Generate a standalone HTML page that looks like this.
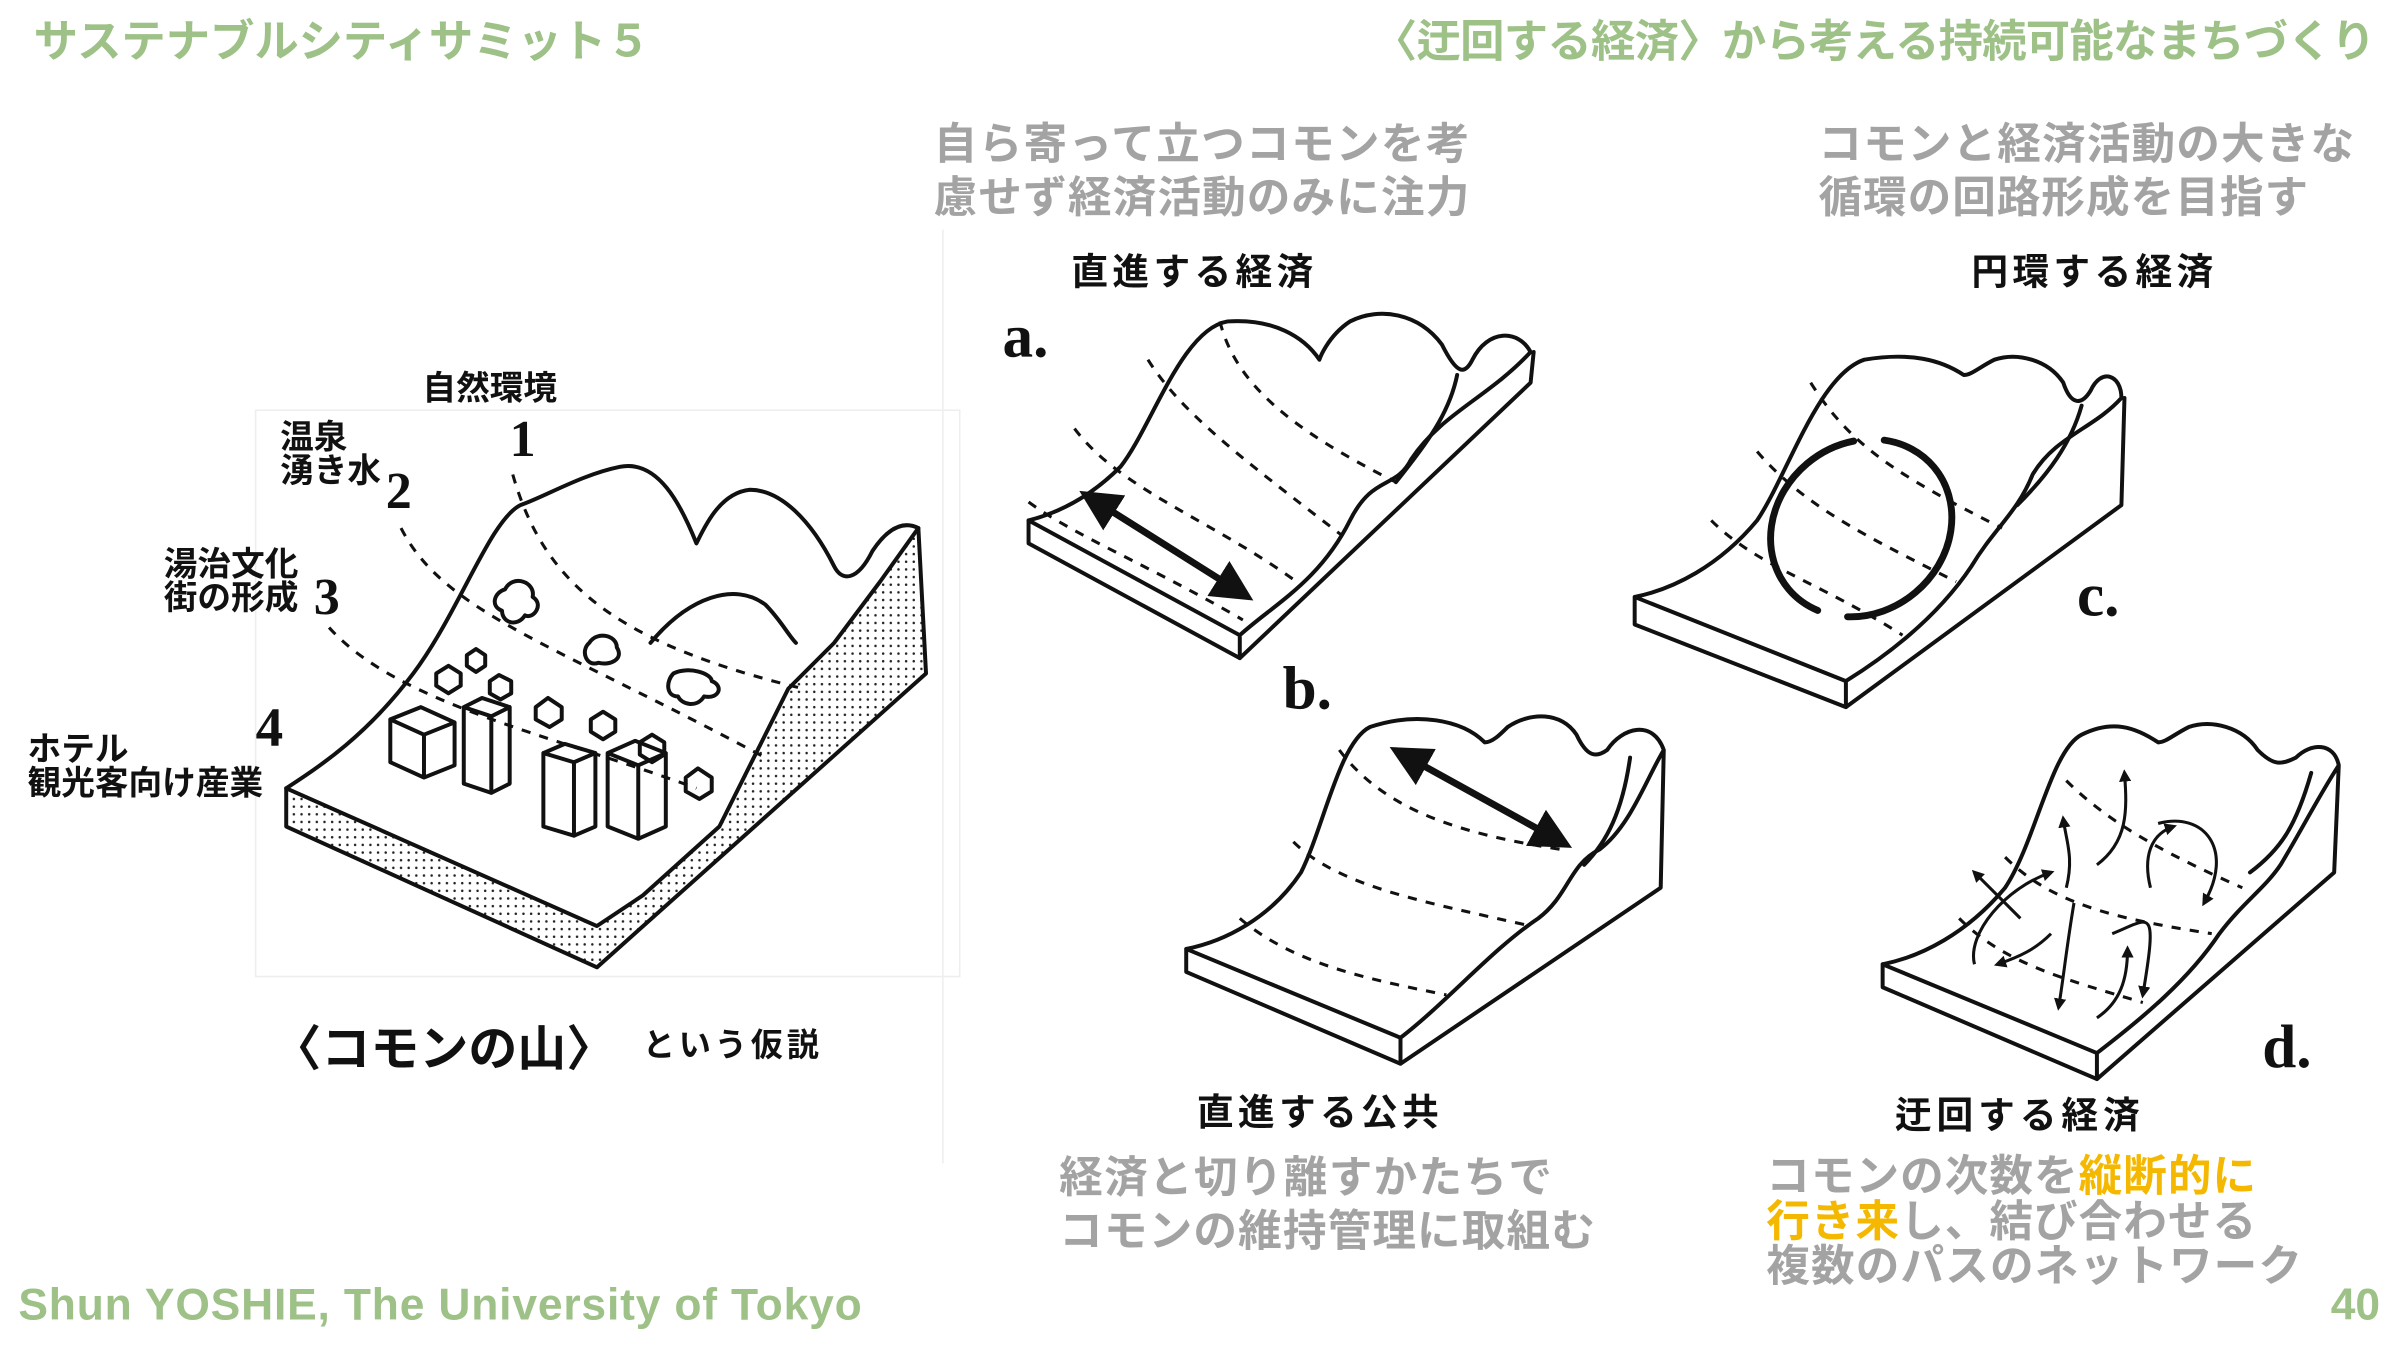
<!DOCTYPE html>
<html><head><meta charset="utf-8"><style>
html,body{margin:0;padding:0;background:#fff;width:2400px;height:1350px;overflow:hidden}
#w{width:1568px;height:882px;transform:scale(1.5306);transform-origin:0 0;position:relative}
svg{position:absolute;left:0;top:0}
text{font-family:"Liberation Sans","Noto Sans CJK JP",sans-serif}
.g{fill:#9dc187;font-weight:bold;font-size:29px}
.gr{fill:#a3a3a3;font-weight:bold;font-size:28.5px}
.k{fill:#111;font-weight:bold;font-size:24px}
.s{fill:none;stroke:#111;stroke-width:2.6;stroke-linecap:round;stroke-linejoin:round}
.d{fill:none;stroke:#111;stroke-width:2;stroke-dasharray:6 6}
.ar{fill:none;stroke:#111;stroke-width:4.5;stroke-linecap:round}
.lt{font-family:"Liberation Serif",serif;font-weight:bold;font-size:40px;fill:#111}
</style></head><body><div id="w">
<svg width="1568" height="882" viewBox="0 0 1568 882">
<defs>
<pattern id="dots" width="5" height="5" patternUnits="userSpaceOnUse"><circle cx="2" cy="2" r="0.8" fill="#222"/></pattern>
<marker id="ah" viewBox="0 0 10 10" refX="7" refY="5" markerWidth="4" markerHeight="4" orient="auto-start-reverse"><path d="M0,0L10,5L0,10z" fill="#111"/></marker>
<marker id="ah2" viewBox="0 0 10 10" refX="7" refY="5" markerWidth="6" markerHeight="6" orient="auto-start-reverse"><path d="M0,0L10,5L0,10z" fill="#111"/></marker>
</defs>
<rect x="167" y="268" width="460" height="370" fill="none" stroke="#eee"/>
<line x1="616" y1="150" x2="616" y2="760" stroke="#eee"/>
<text x="22" y="37" class="g" textLength="403">サステナブルシティサミット５</text>
<text x="897" y="37" class="g" textLength="655">〈迂回する経済〉から考える持続可能なまちづくり</text>
<text x="12" y="862" class="g" textLength="551">Shun YOSHIE, The University of Tokyo</text>
<text x="1555" y="862" class="g" text-anchor="end">40</text>
<text x="610" y="104" class="gr" textLength="350">自ら寄って立つコモンを考</text>
<text x="610" y="139" class="gr" textLength="350">慮せず経済活動のみに注力</text>
<text x="1188" y="104" class="gr" textLength="350">コモンと経済活動の大きな</text>
<text x="1188" y="139" class="gr" textLength="320">循環の回路形成を目指す</text>
<text x="692" y="779" class="gr" textLength="322">経済と切り離すかたちで</text>
<text x="692" y="814" class="gr" textLength="350">コモンの維持管理に取組む</text>
<text x="1154" y="778" class="gr" textLength="320">コモンの次数を<tspan fill="#f5b800">縦断的に</tspan></text>
<text x="1154" y="808" class="gr" textLength="320"><tspan fill="#f5b800">行き来</tspan>し、結び合わせる</text>
<text x="1154" y="837" class="gr" textLength="350">複数のパスのネットワーク</text>
<text x="700" y="186" class="k" textLength="158">直進する経済</text>
<text x="1288" y="186" class="k" textLength="158">円環する経済</text>
<text x="782" y="735" class="k" textLength="158">直進する公共</text>
<text x="1238" y="737" class="k" textLength="160">迂回する経済</text>
<text x="276" y="261" class="k" style="font-size:22px">自然環境</text>
<text x="183" y="293" class="k" style="font-size:22px">温泉</text>
<text x="183" y="315" class="k" style="font-size:22px">湧き水</text>
<text x="107" y="376" class="k" style="font-size:22px">湯治文化</text>
<text x="107" y="398" class="k" style="font-size:22px">街の形成</text>
<text x="18" y="497" class="k" style="font-size:22px">ホテル</text>
<text x="18" y="519" class="k" style="font-size:22px">観光客向け産業</text>
<text x="333" y="298" class="lt" style="font-size:34px">1</text>
<text x="252" y="332" class="lt" style="font-size:34px">2</text>
<text x="205" y="401" class="lt" style="font-size:34px">3</text>
<text x="167" y="487" class="lt" style="font-size:36px">4</text>
<text x="178" y="696" class="k" style="font-size:32px">〈コモンの山〉</text>
<text x="420" y="690" class="k" style="font-size:21px" textLength="115">という仮説</text>
<text x="655" y="233" class="lt">a.</text>
<text x="838" y="463" class="lt">b.</text>
<text x="1357" y="402" class="lt">c.</text>
<text x="1478" y="697" class="lt">d.</text>

<path d="M390,605 L420,585 L470,540 L515,450 L545,420 L575,380 L600,345 L605,440 L390,632 Z" fill="url(#dots)"/>
<path d="M187,540 L187,515 L390,605 L390,632 L187,540 Z" fill="url(#dots)"/>
<path class="s" d="M187,515 L187,540 L390,632 L605,440 L600,345"/>
<path class="s" d="M187,515 L390,605 L420,585 L470,540 L515,450 L545,420 L575,380 L600,345 C590,340 580,345 570,360 C560,380 550,380 545,370 C530,340 510,320 490,320 C470,322 460,345 455,355 C445,330 430,300 405,305 C380,310 355,325 340,330 C320,340 300,400 270,440 C240,480 210,500 187,515"/>
<path class="s" d="M425,420 C450,390 480,380 500,395 C510,405 515,415 520,420"/>
<path class="d" d="M335,310 C355,380 400,420 525,450"/>
<path class="d" d="M262,345 C290,400 360,420 500,495"/>
<path class="d" d="M215,410 C260,460 360,480 455,515"/>
<path class="s" stroke-width="1.5" d="M330,385 c5,-10 20,-5 18,5 c8,5 0,15 -5,12 c-5,8 -15,5 -15,-3 c-8,-3 -5,-12 2,-14z M385,420 c5,-8 18,-5 18,3 c5,8 -5,12 -12,10 c-8,3 -12,-8 -6,-13z M440,440 c10,-5 25,0 25,5 c8,3 5,12 -5,10 c-5,8 -15,5 -17,0 c-8,0 -8,-10 -3,-15z"/>
<g class="s" stroke-width="1.8">
<path d="M255,470 l20,-8 l22,10 l0,28 l-20,8 l-22,-10z M255,470 l22,10 l20,-8 M277,480 l0,28"/>
<path d="M303,462 l12,-6 l18,6 l0,50 l-12,6 l-18,-6z M303,462 l18,6 l12,-6 M321,468 l0,50"/>
<path d="M355,492 l14,-6 l20,6 l0,48 l-14,6 l-20,-6z M355,492 l20,6 l14,-6 M375,498 l0,48"/>
<path d="M397,492 l18,-8 l20,8 l0,48 l-18,8 l-20,-8z M397,492 l20,8 l18,-8 M417,500 l0,48"/>
<path d="M285,440 l8,-5 l8,5 l0,8 l-8,5 l-8,-5z M305,428 l6,-4 l6,4 l0,7 l-6,4 l-6,-4z M320,445 l6,-4 l8,4 l0,8 l-7,4 l-7,-4z M350,462 l8,-6 l9,6 l0,8 l-8,5 l-9,-5z M386,470 l8,-5 l8,5 l0,8 l-8,5 l-8,-5z M418,485 l8,-5 l8,5 l0,8 l-8,5 l-8,-5z M448,508 l8,-6 l9,6 l0,9 l-8,5 l-9,-5z"/>
</g>

<g transform="translate(672,210)">
<path class="s" d="M0,130 L0,145 L138,220 L328,40 L330,20 M0,130 L138,205 L138,220 M138,205 C160,185 190,170 210,130 C225,100 240,110 250,90 C270,60 300,50 328,20 C320,5 300,5 290,25 C285,35 280,35 270,15 C255,-5 230,-10 210,0 C195,10 190,25 190,25 C180,10 160,-2 130,0 C100,5 80,70 60,95 C40,115 20,125 0,130"/>
<path class="s" d="M280,35 C275,60 260,80 240,105"/>
<path class="d" d="M125,0 C135,40 170,70 240,105"/>
<path class="d" d="M78,25 C100,60 140,90 205,140"/>
<path class="d" d="M30,70 C60,110 120,130 175,170"/>
<path class="d" d="M0,118 C30,140 80,160 140,195"/>
<line x1="40" y1="115" x2="140" y2="178" class="ar" marker-start="url(#ah2)" marker-end="url(#ah2)"/>
</g>
<g transform="translate(1068,230)">
<path class="s" d="M0,160 L0,178 L138,232 L318,100 L320,30 M0,160 L138,215 L138,232 M138,215 C170,195 200,170 220,140 C235,115 250,105 260,80 C275,55 300,50 318,30 C318,15 305,10 298,25 C292,35 285,35 280,20 C270,5 250,0 235,5 C225,10 220,15 215,15 C200,5 180,0 150,5 C120,15 100,80 80,110 C55,140 25,155 0,160"/>
<path class="s" d="M292,35 C285,60 270,80 250,100"/>
<path class="d" d="M115,20 C140,60 170,80 240,115"/>
<path class="d" d="M80,65 C110,100 150,120 210,150"/>
<path class="d" d="M50,110 C80,140 120,150 175,185"/>
<ellipse cx="148" cy="115" rx="62" ry="55" transform="rotate(-40 148 115)" class="ar" stroke-dasharray="140 20 150 20"/>
</g>
<g transform="translate(775,470)">
<path class="s" d="M0,150 L0,165 L140,225 L310,110 L312,20 M0,150 L140,208 L140,225 M140,208 C170,185 200,150 230,130 C250,115 250,95 270,85 C290,70 300,40 312,20 C305,0 285,5 275,20 C268,25 262,25 255,10 C245,-5 225,-5 210,5 C205,10 200,15 195,15 C180,0 150,-5 120,5 C100,15 90,70 75,100 C55,130 25,145 0,150"/>
<path class="s" d="M290,25 C285,60 275,80 260,95"/>
<path class="d" d="M100,20 C130,60 180,75 245,85"/>
<path class="d" d="M70,80 C100,110 160,120 225,135"/>
<path class="d" d="M35,130 C70,160 120,170 170,180"/>
<line x1="140" y1="22" x2="245" y2="80" class="ar" marker-start="url(#ah2)" marker-end="url(#ah2)"/>
</g>
<g transform="translate(1230,470)">
<path class="s" d="M0,160 L0,175 L140,235 L295,100 L298,30 M0,160 L140,218 L140,235 M140,218 C170,195 200,170 220,140 C235,120 250,110 260,95 C275,70 285,50 298,30 C295,15 280,15 270,25 C260,30 255,30 245,20 C235,5 215,0 200,5 C190,10 185,15 180,15 C165,5 150,0 130,10 C110,20 100,80 80,110 C55,140 25,155 0,160"/>
<path class="s" d="M280,35 C270,70 260,85 240,100"/>
<path class="d" d="M120,40 C150,70 190,90 235,110"/>
<path class="d" d="M80,90 C110,120 150,130 215,140"/>
<path class="d" d="M50,130 C80,160 120,170 170,185"/>
<g fill="none" stroke="#111" stroke-width="2" marker-end="url(#ah)">
<path d="M120,110 C125,90 120,80 118,65"/>
<path d="M140,95 C160,80 160,60 158,35"/>
<path d="M175,110 C170,90 175,75 190,70"/>
<path d="M180,68 C210,60 230,85 210,120"/>
<path d="M90,130 C80,120 70,110 60,100"/>
<path d="M60,160 C55,140 80,110 110,100"/>
<path d="M125,120 C120,150 118,170 115,188"/>
<path d="M110,140 C100,150 90,155 75,160"/>
<path d="M150,140 C175,130 180,120 170,180"/>
<path d="M140,195 C155,185 160,170 160,150"/>
</g>
</g>
</svg></div></body></html>
